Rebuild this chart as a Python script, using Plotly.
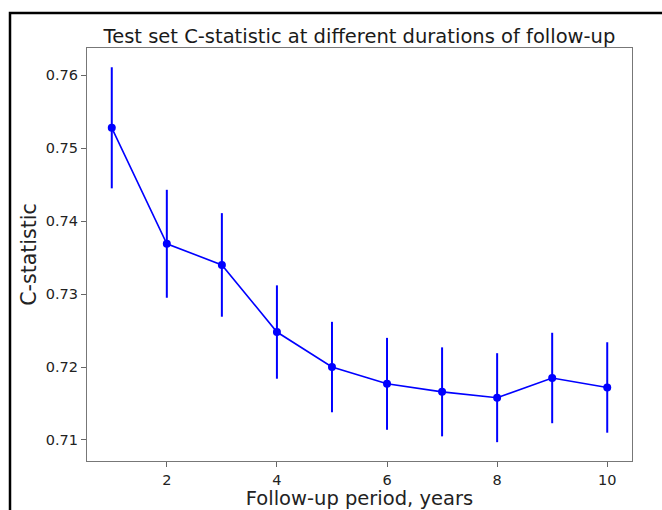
import plotly.graph_objects as go

years = [1, 2, 3, 4, 5, 6, 7, 8, 9, 10]
c_stat = [0.7528, 0.7369, 0.7340, 0.7248, 0.7200, 0.7177, 0.7166, 0.7158, 0.7185, 0.7172]
ci_half = [0.0083, 0.0074, 0.0071, 0.0064, 0.0062, 0.0063, 0.0061, 0.0061, 0.0062, 0.0062]
y_ticks = [0.71, 0.72, 0.73, 0.74, 0.75, 0.76]
x_ticks = [2, 4, 6, 8, 10]

FONT = "DejaVu Sans"

fig = go.Figure()
fig.add_trace(go.Scatter(
    x=years, y=c_stat,
    mode="lines+markers",
    line=dict(color="#0000ff", width=1.6),
    marker=dict(color="#0000ff", size=8),
    error_y=dict(type="data", array=ci_half, visible=True, color="#0000ff",
                 thickness=2, width=0),
    showlegend=False,
))

fig.update_layout(
    width=662, height=510,
    margin=dict(l=87, r=30, t=48, b=49, autoexpand=False),
    paper_bgcolor="white", plot_bgcolor="white",
    font=dict(family=FONT, color="#222222"),
    title=dict(text="Test set C-statistic at different durations of follow-up",
               x=0.543, xanchor="center", y=1 - 36 / 510, yanchor="middle",
               font=dict(size=19.5, color="#1a1a1a", family=FONT)),
    xaxis=dict(range=[0.55, 10.45], tickvals=x_ticks, ticks="outside", ticklen=5,
               tickcolor="#666666", tickwidth=1, showgrid=False, zeroline=False,
               showline=True, linecolor="#777777", linewidth=1.2, mirror=True,
               automargin=False,
               tickfont=dict(size=14.5, family=FONT, color="#222222"),
               title=dict(text="Follow-up period, years", standoff=2,
                          font=dict(size=19.5, family=FONT, color="#222222"))),
    yaxis=dict(range=[0.70712, 0.76374], tickvals=y_ticks, tickformat=".2f",
               ticks="outside", ticklen=5, automargin=False,
               tickcolor="#666666", tickwidth=1, showgrid=False, zeroline=False,
               showline=True, linecolor="#777777", linewidth=1.2, mirror=True,
               tickfont=dict(size=14.5, family=FONT, color="#222222"),
               title=dict(text="C-statistic", standoff=3,
                          font=dict(size=20.5, family=FONT, color="#222222"))),
    shapes=[dict(type="rect", xref="paper", yref="paper",
                 x0=(10 - 87) / 545, x1=1.2, y0=-0.3, y1=(461 - 13) / 413,
                 line=dict(color="black", width=2.5), layer="below")],
)

fig.write_html("out.html", config={"displayModeBar": False},
               post_script="document.body.style.margin='0';document.body.style.overflow='hidden';")
